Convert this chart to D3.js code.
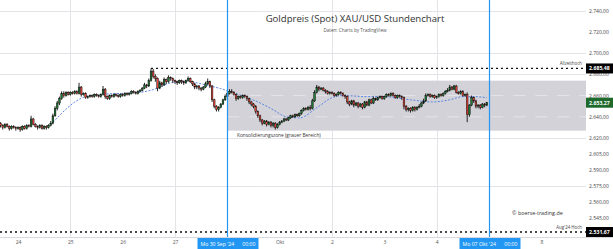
<!DOCTYPE html>
<html><head><meta charset="utf-8">
<script src="https://cdn.jsdelivr.net/npm/d3@7"></script>
<style>
html,body{margin:0;padding:0;background:#fff;}
svg{display:block;font-family:"Open Sans","DejaVu Sans",sans-serif;}
</style>
</head><body>
<svg id="chart" width="613" height="249"></svg>
<script>
// Hourly XAU/USD candles, 23 Sep 16:00 .. 04 Okt 23:00 (bar index 0..223)
const opens = [2634,2632,2630,2633,2631,2629,2631,2630,2629,2630,2628,2631,2629,2632,2631,2638,2633,2631,2630,2632,2629,2631,2630,2632,
2634,2641,2648,2653,2657,2662,2660,2663,2661,2663,2662,2664,2662,2668,2661,2662,2658,2659,2660,2659,2661,2660,2659,2661,
2666,2659,2657,2660,2659,2661,2660,2659,2661,2660,2662,2661,2662,2664,2663,2662,2664,2665,2667,2670,2669,2674,2683,2678,
2676,2667,2672,2670,2675,2673,2677,2676,2674,2673,2672,2674,2673,2672,2674,2676,2673,2671,2668,2669,2667,2666,2668,2671,
2673,2669,2656,2650,2647,2649,2652,2656,2659,2662,2664,2663,2661,2657,2659,2658,2660,2659,2657,2654,2652,2650,2645,2641,
2637,2634,2636,2633,2635,2632,2634,2630,2633,2635,2636,2638,2637,2639,2641,2640,2642,2641,2643,2646,2648,2647,2649,2648,
2655,2663,2668,2666,2667,2665,2664,2662,2663,2662,2660,2661,2663,2662,2660,2659,2654,2652,2655,2651,2653,2650,2652,2649,
2654,2651,2656,2653,2657,2656,2658,2659,2657,2659,2661,2660,2662,2660,2658,2660,2659,2658,2650,2647,2648,2646,2649,2647,
2649,2650,2653,2655,2660,2661,2659,2660,2658,2659,2661,2660,2662,2664,2665,2668,2666,2669,2663,2662,2664,2660,2661,2642,
2651,2658,2655,2650,2651,2649,2652,2651];
const highs = [2635,2633,2634,2634,2632,2632,2632,2631,2631,2631,2632,2632,2633,2633,2641,2639,2634,2632,2633,2633,2632,2632,2633,2636,
2643,2650,2655,2659,2664,2664,2664,2664,2664,2664,2665,2665,2672,2669,2663,2663,2660,2661,2661,2662,2662,2661,2662,2669,
2667,2660,2661,2661,2662,2662,2661,2662,2662,2663,2663,2663,2665,2665,2664,2665,2666,2668,2672,2671,2676,2685.48,2685,2680,
2677,2674,2673,2677,2676,2679,2678,2677,2675,2674,2675,2675,2674,2675,2678,2677,2674,2672,2670,2670,2668,2669,2673,2676,
2674,2670,2657,2651,2650,2653,2657,2661,2664,2666,2666,2664,2662,2660,2660,2661,2661,2660,2658,2655,2653,2651,2646,2642,
2638,2637,2637,2636,2636,2635,2635,2634,2636,2637,2639,2639,2640,2642,2642,2643,2643,2644,2647,2649,2649,2650,2651,2657,
2665,2670,2669,2668,2668,2666,2665,2664,2664,2663,2662,2664,2664,2663,2661,2660,2655,2656,2656,2654,2654,2653,2653,2655,
2655,2657,2657,2659,2658,2659,2660,2660,2660,2662,2662,2663,2663,2661,2661,2661,2660,2659,2651,2649,2649,2650,2650,2650,
2652,2654,2657,2662,2662,2662,2661,2661,2660,2662,2662,2663,2665,2667,2670,2669,2670,2670,2664,2665,2665,2662,2663,2652,
2660,2659,2656,2652,2652,2653,2653,2654];
const lows = [2630,2628,2629,2630,2627,2628,2629,2627,2628,2626,2627,2628,2628,2630,2630,2632,2630,2628,2629,2628,2628,2628,2629,2631,
2633,2640,2646,2651,2656,2658,2659,2660,2660,2661,2661,2661,2661,2659,2660,2657,2657,2658,2658,2658,2659,2658,2658,2660,
2657,2656,2656,2658,2658,2659,2658,2658,2659,2659,2660,2660,2661,2662,2661,2661,2663,2664,2666,2667,2668,2673,2676,2673,
2664,2666,2668,2669,2671,2672,2674,2672,2671,2670,2671,2671,2670,2671,2673,2672,2669,2666,2666,2665,2664,2665,2667,2670,
2667,2654,2648,2645,2645,2648,2651,2655,2658,2661,2662,2660,2655,2656,2657,2657,2658,2655,2652,2650,2648,2643,2639,2635,
2632,2633,2631,2632,2630,2630,2628,2629,2632,2634,2635,2636,2636,2638,2639,2639,2640,2640,2642,2645,2646,2646,2646,2647,
2654,2662,2664,2665,2664,2662,2661,2661,2661,2659,2659,2660,2661,2659,2657,2652,2650,2651,2649,2650,2648,2649,2647,2648,
2650,2650,2652,2652,2655,2655,2657,2656,2656,2658,2659,2659,2659,2657,2657,2658,2656,2647,2645,2645,2644,2645,2645,2646,
2648,2649,2652,2654,2659,2658,2658,2657,2657,2658,2659,2659,2661,2663,2664,2665,2665,2662,2661,2661,2659,2659,2635,
2640,2650,2653,2648,2648,2647,2648,2649,2650];
const closes = [2632,2630,2633,2631,2629,2631,2630,2629,2630,2628,2631,2629,2632,2631,2638,2633,2631,2630,2632,2629,2631,2630,2632,2634,
2641,2648,2653,2657,2662,2660,2663,2661,2663,2662,2664,2662,2668,2661,2662,2658,2659,2660,2659,2661,2660,2659,2661,2666,
2659,2657,2660,2659,2661,2660,2659,2661,2660,2662,2661,2662,2664,2663,2662,2664,2665,2667,2670,2669,2674,2683,2678,2676,
2667,2672,2670,2675,2673,2677,2676,2674,2673,2672,2674,2673,2672,2674,2676,2673,2671,2668,2669,2667,2666,2668,2671,2673,
2669,2656,2650,2647,2649,2652,2656,2659,2662,2664,2663,2661,2657,2659,2658,2660,2659,2657,2654,2652,2650,2645,2641,2637,
2634,2636,2633,2635,2632,2634,2630,2633,2635,2636,2638,2637,2639,2641,2640,2642,2641,2643,2646,2648,2647,2649,2648,2655,
2663,2668,2666,2667,2665,2664,2662,2663,2662,2660,2661,2663,2662,2660,2659,2654,2652,2655,2651,2653,2650,2652,2649,2654,
2651,2656,2653,2657,2656,2658,2659,2657,2659,2661,2660,2662,2660,2658,2660,2659,2658,2650,2647,2648,2646,2649,2647,2649,
2650,2653,2655,2660,2661,2659,2660,2658,2659,2661,2660,2662,2664,2665,2668,2666,2669,2663,2662,2664,2660,2661,2642,2651,
2658,2655,2650,2651,2649,2652,2651,2653.27];

// Moving average (bar index, price)
const maIndex  = [23,39,46,64,72,78,86,90,96,101,105,113,118,125,131,137,145,152,157,168,175,188,198,206,212,217,223];
const maValues = [2632.5,2659,2661,2663,2667,2672,2673.5,2672,2669,2666.5,2664,2658,2654,2646.7,2640,2639,2648.5,2658,2660,2659,2659,2656,2654,2656,2659,2659,2658];

// Time axis: bar index of each day start, and its label
const dayTicks  = [8,32,56,80,128,152,176,200,248];
const dayLabels = ["24","25","26","27","Okt","2","3","4","8"];
const gridDays  = [32,80,152,200];
const markerDays   = [104,224];
const markerLabels = ["Mo 30 Sep '24","Mo 07 Okt '24"];
const markerTimes  = ["00:00","00:00"];

// Price axis
const priceTicks = [2740,2720,2700,2680,2660,2640,2620,2605,2590,2575,2560,2545];
const gridPrices = [2740,2700,2680,2620,2575];
const zoneLines  = [2660,2640];
const zoneTop = 2674, zoneBottom = 2627, zoneStartDay = 104;
const athPrice = 2685.48, athStartBar = 69, augHighPrice = 2531.67, lastPrice = 2653.27;

const W = 613, H = 249, plotRight = 586, axisY = 237;
const svg = d3.select("#chart");
const de = d3.formatLocale({decimal: ",", thousands: ".", grouping: [3], currency: ["", "€"]});
const fmt = de.format(",.2f");

const x = d3.scaleLinear().domain([0, 224]).range([0.56, 489]);
const y = d3.scaleLinear().domain([augHighPrice, 2740]).range([232, 10.5]);
const step = x(1) - x(0);

svg.append("rect").attr("width", W).attr("height", H).attr("fill", "#fff");

// grid
const grid = svg.append("g").attr("stroke", "#e3e3e8").attr("stroke-width", 1);
grid.selectAll("line.h").data(gridPrices).join("line")
  .attr("x1", 0).attr("x2", plotRight)
  .attr("y1", d => Math.round(y(d)) + 0.5).attr("y2", d => Math.round(y(d)) + 0.5);
grid.selectAll("line.v").data(gridDays).join("line")
  .attr("x1", d => Math.round(x(d)) + 0.5).attr("x2", d => Math.round(x(d)) + 0.5)
  .attr("y1", 0).attr("y2", axisY);

// consolidation zone
svg.append("rect")
  .attr("x", x(zoneStartDay)).attr("y", y(zoneTop))
  .attr("width", plotRight - x(zoneStartDay)).attr("height", y(zoneBottom) - y(zoneTop))
  .attr("fill", "#d2d2d8");
svg.append("g").selectAll("line").data(zoneLines).join("line")
  .attr("x1", x(zoneStartDay)).attr("x2", plotRight)
  .attr("y1", d => y(d)).attr("y2", d => y(d))
  .attr("stroke", "#e4e4ea").attr("stroke-width", 1).attr("stroke-dasharray", "12,10");

// reference lines: all-time high and August high
svg.append("line").attr("x1", x(athStartBar)).attr("x2", plotRight)
  .attr("y1", y(athPrice)).attr("y2", y(athPrice))
  .attr("stroke", "#111").attr("stroke-width", 1.3).attr("stroke-dasharray", "2,3");
svg.append("line").attr("x1", 0).attr("x2", plotRight)
  .attr("y1", y(augHighPrice)).attr("y2", y(augHighPrice))
  .attr("stroke", "#111").attr("stroke-width", 1.3).attr("stroke-dasharray", "2,3");

// moving average
svg.append("path")
  .datum(maIndex.map((d, i) => [d, maValues[i]]))
  .attr("d", d3.line().x(d => x(d[0])).y(d => y(d[1])).curve(d3.curveMonotoneX))
  .attr("fill", "none").attr("stroke", "#5b86e5").attr("stroke-width", 1)
  .attr("stroke-dasharray", "2,1.5");

// candles
const bars = d3.range(closes.length).map(i => ({i, o: opens[i], h: highs[i], l: lows[i], c: closes[i]}));
const cg = svg.append("g");
cg.selectAll("line").data(bars).join("line")
  .attr("x1", d => x(d.i)).attr("x2", d => x(d.i))
  .attr("y1", d => y(d.h)).attr("y2", d => y(d.l))
  .attr("stroke", "#111").attr("stroke-width", 0.9);
cg.selectAll("rect").data(bars).join("rect")
  .attr("x", d => x(d.i) - step * 0.38)
  .attr("width", step * 0.76)
  .attr("y", d => y(Math.max(d.o, d.c)))
  .attr("height", d => Math.max(0.8, Math.abs(y(d.o) - y(d.c))))
  .attr("fill", d => d.c >= d.o ? "#1e7a34" : "#f0443a")
  .attr("stroke", "#111").attr("stroke-width", 0.5);

// date marker lines
svg.append("g").selectAll("line").data(markerDays).join("line")
  .attr("x1", d => Math.round(x(d)) + 0.5).attr("x2", d => Math.round(x(d)) + 0.5)
  .attr("y1", 0).attr("y2", axisY)
  .attr("stroke", "#2196f3").attr("stroke-width", 1.2);

// texts in plot
svg.append("text").attr("x", 355).attr("y", 22).attr("text-anchor", "middle")
  .attr("font-size", 9.6).attr("fill", "#333").text("Goldpreis (Spot) XAU/USD Stundenchart");
svg.append("text").attr("x", 355).attr("y", 31.5).attr("text-anchor", "middle")
  .attr("font-size", 4.6).attr("fill", "#555").text("Daten: Charts by TradingView");
svg.append("text").attr("x", 237).attr("y", 136.5)
  .attr("font-size", 4.8).attr("fill", "#333").text("Konsolidierungszone (grauer Bereich)");
svg.append("text").attr("x", 582).attr("y", y(athPrice) - 3)
  .attr("text-anchor", "end").attr("font-size", 4.4).attr("fill", "#444").text("Allzeithoch");
svg.append("text").attr("x", 582).attr("y", y(augHighPrice) - 3)
  .attr("text-anchor", "end").attr("font-size", 4.4).attr("fill", "#444").text("Aug'24 Hoch");
svg.append("text").attr("x", 512).attr("y", 215)
  .attr("font-size", 5.4).attr("fill", "#333").text("© boerse-trading.de");

// time axis
svg.append("line").attr("x1", 0).attr("x2", W).attr("y1", axisY + 0.5).attr("y2", axisY + 0.5)
  .attr("stroke", "#d8d8de");
const xAxis = d3.axisBottom(x).tickValues(dayTicks)
  .tickFormat((d, i) => dayLabels[i]).tickSize(0).tickPadding(3);
svg.append("g").attr("transform", `translate(0,${axisY})`).call(xAxis)
  .call(g => g.select(".domain").remove())
  .call(g => g.selectAll("text").attr("font-size", 5).attr("fill", "#555").attr("font-family", "Open Sans"));

const mk = svg.append("g").selectAll("g").data(markerDays).join("g")
  .attr("transform", d => `translate(${Math.round(x(d)) + 0.5},${axisY + 1})`);
mk.append("rect").attr("x", -30).attr("y", 0).attr("width", 61).attr("height", 11).attr("fill", "#2196f3");
mk.append("text").attr("x", -27).attr("y", 7.6).attr("font-size", 5.2).attr("fill", "#fff")
  .text((d, i) => markerLabels[i]);
mk.append("text").attr("x", 28).attr("y", 7.6).attr("text-anchor", "end").attr("font-size", 5.2).attr("fill", "#fff")
  .text((d, i) => markerTimes[i]);

// price axis
const yAxis = d3.axisRight(y).tickValues(priceTicks).tickFormat(fmt).tickSize(0).tickPadding(3);
svg.append("g").attr("transform", `translate(${plotRight},0)`).call(yAxis)
  .call(g => g.select(".domain").remove())
  .call(g => g.selectAll("text").attr("font-size", 5).attr("fill", "#444").attr("font-family", "Open Sans"));

const tags = [
  {v: athPrice, fill: "#000"},
  {v: lastPrice, fill: "#1d6a2c"},
  {v: augHighPrice, fill: "#000"}
];
const tg = svg.append("g").selectAll("g").data(tags).join("g")
  .attr("transform", d => `translate(${plotRight},${y(d.v)})`);
tg.append("rect").attr("x", 0).attr("y", -5).attr("width", W - plotRight).attr("height", 10).attr("fill", d => d.fill);
tg.append("text").attr("x", 3).attr("y", 2).attr("font-size", 5.2).attr("font-weight", "bold")
  .attr("fill", "#fff").text(d => fmt(d.v));
</script>
</body></html>
